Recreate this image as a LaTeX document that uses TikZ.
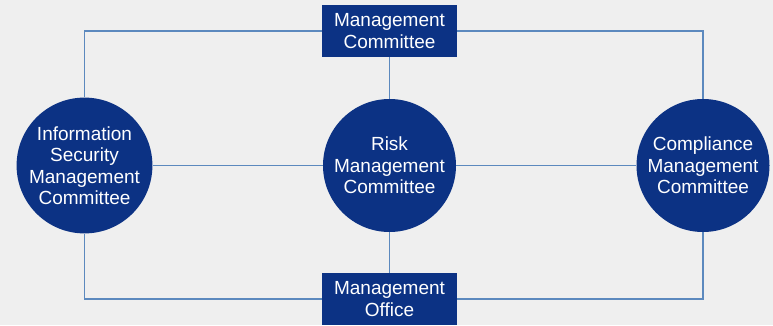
\documentclass[tikz,border=0pt]{standalone}
\usepackage{fontspec}
\setmainfont{Liberation Sans}
\definecolor{navy}{RGB}{12,50,132}
\definecolor{wire}{RGB}{92,137,190}
\definecolor{paper}{RGB}{239,239,239}

\begin{document}
\begin{tikzpicture}[x=1bp,y=-1bp,
	committee/.style={circle,fill=navy,text=white,minimum size=133bp,inner sep=0pt,
		align=center,font=\fontsize{19bp}{21.5bp}\selectfont},
	board/.style={rectangle,fill=navy,text=white,minimum width=135bp,minimum height=52bp,
		inner sep=0pt,align=center,font=\fontsize{19bp}{21.5bp}\selectfont},
	link/.style={draw=wire,line width=1.3bp}]

	\fill[paper] (0,0) rectangle (773,325);

	\node[board] (mgmtcom) at (389.5,31) {Management\\Committee};
	\node[board] (mgmtoff) at (389.5,299) {Management\\Office};
	\node[committee] (infosec) at (84.5,165.5) {Information\\Security\\Management\\Committee};
	\node[committee] (risk) at (389.5,165.5) {Risk\\Management\\Committee};
	\node[committee] (compliance) at (703,165.5) {Compliance\\Management\\Committee};

%	outer frame
	\path[link] (infosec) |- (mgmtcom);
	\path[link] (mgmtcom) -| (compliance);
	\path[link] (infosec) |- (mgmtoff);
	\path[link] (mgmtoff) -| (compliance);
	\path[link] (infosec) -- (risk) -- (compliance);
	\path[link] (mgmtcom) -- (risk) -- (mgmtoff);

\end{tikzpicture}
\end{document}
